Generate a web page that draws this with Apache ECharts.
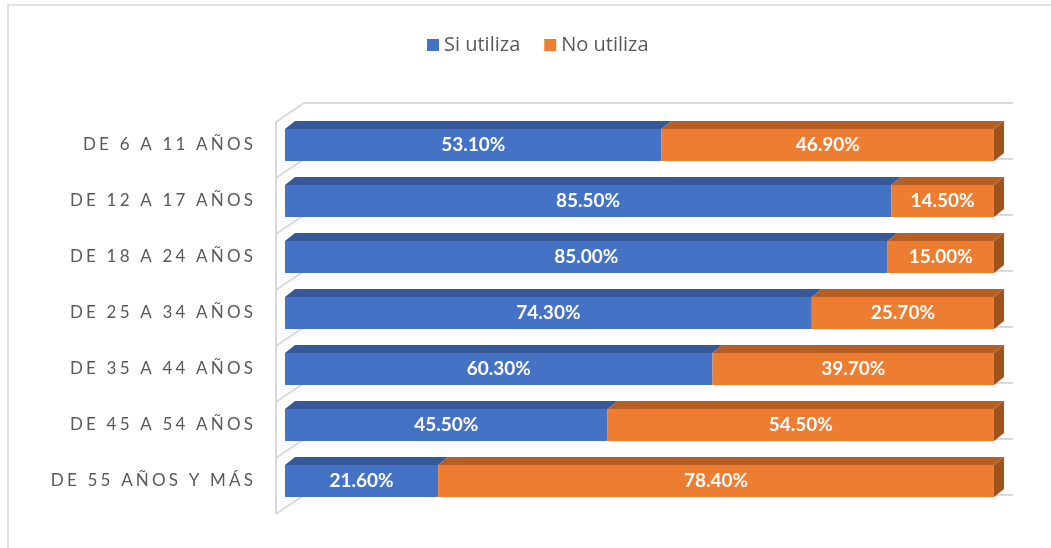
<!DOCTYPE html>
<html>
<head>
<meta charset="utf-8">
<script src="https://cdn.jsdelivr.net/npm/echarts@6/dist/echarts.min.js"></script>
<style>
  html, body { margin: 0; padding: 0; background: #fff; }
  #chart { width: 1051px; height: 548px; }
</style>
</head>
<body>
<div id="chart"></div>
<script>
  // 数据
  var categories = ['DE 6 A 11 AÑOS', 'DE 12 A 17 AÑOS', 'DE 18 A 24 AÑOS', 'DE 25 A 34 AÑOS',
    'DE 35 A 44 AÑOS', 'DE 45 A 54 AÑOS', 'DE 55 AÑOS Y MÁS'];
  var siUtiliza = [53.1, 85.5, 85.0, 74.3, 60.3, 45.5, 21.6];
  var noUtiliza = [46.9, 14.5, 15.0, 25.7, 39.7, 54.5, 78.4];

  var myChart = echarts.init(document.getElementById('chart'));

  // 三维柱子：正面 + 顶面 + 右侧面
  function makeBarRender(front, top, side, showSide) {
    return function (params, api) {
      var start = api.value(0), end = api.value(1), cat = api.value(2);
      var p0 = api.coord([start, cat]);
      var p1 = api.coord([end, cat]);
      var bandH = api.size([0, 1])[1];
      var barH = bandH * 0.57;
      var dx = 10, dy = 8;
      var yT = p0[1] - barH / 2, yB = p0[1] + barH / 2;
      var x0 = p0[0], x1 = p1[0];
      var children = [
        {
          type: 'polygon',
          shape: { points: [[x0, yT], [x0 + dx, yT - dy], [x1 + dx, yT - dy], [x1, yT]] },
          style: { fill: top }
        },
        {
          type: 'rect',
          shape: { x: x0, y: yT, width: x1 - x0, height: barH },
          style: { fill: front }
        },
        {
          type: 'text',
          style: {
            x: (x0 + x1) / 2, y: p0[1],
            text: (end - start).toFixed(2) + '%',
            fill: '#fff', fontFamily: 'Lato', fontWeight: 'bold', fontSize: 19,
            align: 'center', verticalAlign: 'middle'
          }
        }
      ];
      if (showSide) {
        children.push({
          type: 'polygon',
          shape: { points: [[x1, yT], [x1 + dx, yT - dy], [x1 + dx, yB - dy], [x1, yB]] },
          style: { fill: side }
        });
      }
      return { type: 'group', children: children };
    };
  }

  // 墙面线
  function renderWalls(params, api) {
    var cat = api.value(0);
    var a = api.coord([0, cat]);
    var b = api.coord([100, cat]);
    var B = api.size([0, 1])[1];
    var wx = a[0] - 9, ddx = 28, ddy = 19;
    var yTop = a[1] - B / 2 + 5, yBot = a[1] + B / 2 + 5;
    var st = { stroke: '#D9D9D9', lineWidth: 2 };
    var lines = [
      [[wx, yTop], [wx, yBot]],
      [[wx, yBot], [wx + ddx, yBot - ddy]],
      [[wx + ddx, yBot - ddy], [b[0] + 19, yBot - ddy]]
    ];
    if (cat === 0) {
      lines.push([[wx, yTop], [wx + ddx, yTop - ddy]]);
      lines.push([[wx + ddx, yTop - ddy], [b[0] + 19, yTop - ddy]]);
    }
    return {
      type: 'group',
      children: lines.map(function (l) {
        return { type: 'polyline', shape: { points: l }, style: st };
      })
    };
  }

  var siData = siUtiliza.map(function (v, i) { return [0, v, i]; });
  var noData = noUtiliza.map(function (v, i) { return [siUtiliza[i], siUtiliza[i] + v, i]; });

  var option = {
    backgroundColor: '#fff',
    animation: false,
    graphic: [{
      type: 'rect',
      shape: { x: 8, y: 5, width: 1100, height: 600 },
      style: { fill: 'none', stroke: '#D9D9D9', lineWidth: 1.5 }
    }],
    legend: {
      data: ['Si utiliza', 'No utiliza'],
      left: 422,
      top: 30,
      itemWidth: 12,
      itemHeight: 12,
      itemGap: 24,
      icon: 'rect',
      textStyle: { color: '#595959', fontSize: 20, fontFamily: 'Open Sans' }
    },
    grid: { left: 285, right: 57, top: 117, bottom: 39 },
    xAxis: { type: 'value', min: 0, max: 100, show: false },
    yAxis: {
      type: 'category',
      data: categories,
      inverse: true,
      axisLine: { show: false },
      axisTick: { show: false },
      axisLabel: {
        margin: 32,
        color: '#595959',
        fontFamily: 'Lato',
        fontSize: 17,
        formatter: function (v) { return v.split('').join('\u2009\u200A'); }
      }
    },
    series: [
      {
        type: 'custom',
        name: 'walls',
        z: 1,
        silent: true,
        renderItem: renderWalls,
        encode: { y: 0 },
        data: categories.map(function (c, i) { return [i]; })
      },
      {
        type: 'custom',
        name: 'Si utiliza',
        z: 2,
        itemStyle: { color: '#4472C4' },
        renderItem: makeBarRender('#4472C4', '#36599A', '#2F4F8A', false),
        encode: { x: [0, 1], y: 2 },
        data: siData
      },
      {
        type: 'custom',
        name: 'No utiliza',
        z: 3,
        itemStyle: { color: '#ED7D31' },
        renderItem: makeBarRender('#ED7D31', '#B65E24', '#A0521D', true),
        encode: { x: [0, 1], y: 2 },
        data: noData
      }
    ]
  };

  myChart.setOption(option);
</script>
</body>
</html>
